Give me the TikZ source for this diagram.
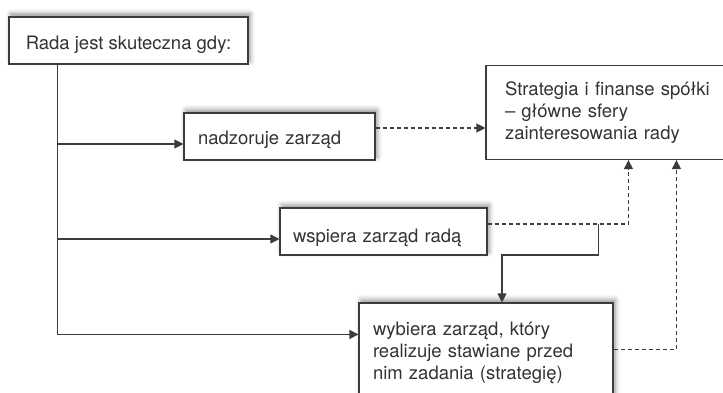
\documentclass[tikz,border=0pt]{standalone}
\usepackage{fontspec}
\setmainfont{TeX Gyre Heros}
\usetikzlibrary{arrows.meta,calc,shadows.blur}
\definecolor{linec}{HTML}{3C3C3C}
\definecolor{textc}{HTML}{333333}
\begin{document}
\begin{tikzpicture}[x=1pt,y=-1pt,
  font=\fontsize{18.5}{21.7}\selectfont,
  box/.style={draw=linec, line width=1.1pt, fill=white, text=textc, inner ysep=0pt, minimum height=47pt},
  bl/.style={text depth=4pt, text height=4pt+2*#1},
  shad/.style={blur shadow={shadow xshift=2pt, shadow yshift=3pt, shadow blur radius=5pt, shadow opacity=45}},
  conn/.style={draw=linec, line width=1.1pt, -{Triangle[length=9pt,width=9pt]}},
  dconn/.style={conn, dash pattern=on 4pt off 3pt}]
\path[use as bounding box] (0,0) rectangle (723,393);
\clip (0,0) rectangle (723,393);

\node[box, shad, bl=9.5pt, minimum width=239pt] (b1) at (128.5,40.5) {Rada jest skuteczna gdy:};
\node[box, shad, bl=8pt, inner xsep=14pt, text width=163pt, align=left] (b2) at (279.5,136.5) {nadzoruje zarząd};
\node[box, shad, bl=11pt, inner xsep=13pt, text width=181pt, align=left] (b4) at (383.5,231.5) {wspiera zarząd radą};
\node[box, inner xsep=19pt, text width=212pt, align=left, minimum height=94pt] (s) at (611,112.5) {Strategia i finanse spółki\\– główne sfery\\zainteresowania rady};
\node[box, shad, inner xsep=14pt, text width=226pt, align=left, minimum height=99.5pt] (b3) at (486,352.75) {wybiera zarząd, który\\realizuje stawiane przed\\nim zadania (strategię)};

\coordinate (t0) at ($(b1.south west)+(49,0)$);
\draw[conn] (t0) |- ($(b3.north west)+(0,32)$);
\draw[conn] ($(t0 |- b2.west)+(0,7.5)$) -- ($(b2.west)+(0,7.5)$);
\draw[conn] ($(t0 |- b4.west)+(0,7.5)$) -- ($(b4.west)+(0,7.5)$);

\draw[dconn] ($(b2.east)+(0,-8.5)$) -- ($(s.west |- b2.east)+(0,-8.5)$);
\draw[dconn] ($(b4.east)+(0,-7.5)$) -| ($(s.south west)+(143,0)$);
\coordinate (j) at ($(b4.east)+(111,-7.5)$);
\draw[conn] (j) -- ++(0,31) -| ($(b3.north)+(16,0)$);
\draw[dconn] ($(b3.north east)+(0,47)$) -| ($(s.south west)+(191,0)$);
\end{tikzpicture}
\end{document}
